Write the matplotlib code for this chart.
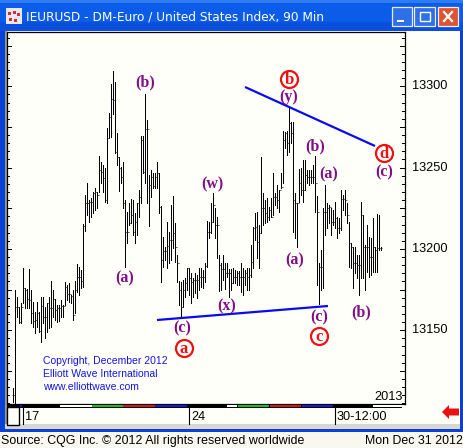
import matplotlib
matplotlib.use("Agg")
import matplotlib.pyplot as plt
from matplotlib.patches import Rectangle, Polygon

W, H = 464, 448

highs = [
 13114.3,13174.7,13170.2,13164.5,13166.5,13188.1,13175.8,13175.2,13187.5,13174.7,13167.2,13161.4,13167.2,13161.4,13170.2,13170.2,13164.5,13166.5,13170.2,13180.3,13174.7,13169.2,13165.5,13165.5,13168.6,13165.5,13179.5,13177.8,13178.8,13171.7,13174.7,13180.5,13190.7,13189.1,13187.0,13215.3,13233.2,13240.3,13230.1,13231.1,13235.2,13237.3,13235.2,13257.2,13253.7,13251.6,13249.6,13274.2,
 13283.8,13301.4,13309.4,13302.5,13271.1,13256.3,13250.6,13253.7,13230.1,13222.5,13228.0,13230.7,13230.1,13221.9,13228.0,13236.2,13269.5,13269.5,13295.3,13279.3,13245.5,13248.5,13246.5,13246.5,13253.7,13246.5,13226.6,13207.5,13201.4,13216.4,13210.6,13227.0,13232.6,13215.7,13196.3,13180.5,13179.9,13180.9,13181.9,13188.5,13188.5,13185.0,13181.9,13185.0,13184.0,13188.1,13188.1,13187.0,
 13191.1,13217.4,13216.8,13228.0,13234.2,13225.0,13219.8,13196.3,13191.1,13196.3,13191.1,13191.1,13187.5,13187.5,13188.1,13187.0,13186.6,13186.6,13191.1,13188.1,13187.0,13188.1,13188.1,13202.4,13213.7,13221.9,13222.9,13214.7,13256.3,13234.2,13230.1,13231.1,13226.0,13231.1,13246.5,13234.2,13239.3,13236.2,13246.5,13272.7,13272.1,13272.7,13286.5,13278.3,13278.3,13234.2,13228.0,
 13249.0,13249.6,13254.7,13254.7,13248.5,13248.5,13248.5,13251.6,13257.2,13232.6,13191.1,13199.3,13225.0,13239.3,13228.0,13227.0,13225.0,13224.0,13229.1,13219.8,13218.8,13236.2,13233.2,13236.2,13228.0,13216.8,13203.4,13201.4,13201.4,13196.3,13196.3,13229.1,13220.9,13202.4,13214.7,13207.5,13206.5,13218.8,13201.4,13221.5,13220.9,13201.4,
]
lows = [
 13106.1,13105.5,13158.3,13154.2,13154.2,13166.5,13163.5,13163.5,13163.5,13154.2,13152.2,13148.1,13152.2,13149.1,13143.0,13154.2,13145.0,13149.1,13151.2,13152.2,13158.3,13156.3,13155.3,13155.9,13158.3,13158.3,13165.5,13168.6,13167.6,13166.5,13156.3,13160.4,13173.7,13171.7,13176.2,13176.8,13211.2,13220.9,13216.8,13219.8,13222.3,13223.9,13225.0,13235.2,13240.3,13235.2,13229.1,13228.0,
 13268.0,13268.6,13283.0,13259.2,13251.6,13235.8,13240.8,13225.0,13189.1,13203.4,13214.7,13215.7,13208.6,13203.4,13208.6,13219.8,13228.0,13246.5,13240.3,13228.0,13214.3,13232.2,13237.3,13237.3,13237.3,13222.3,13179.9,13189.1,13193.2,13188.1,13191.1,13193.2,13200.4,13192.2,13179.5,13165.5,13158.3,13164.5,13170.2,13174.7,13171.7,13167.0,13170.6,13172.7,13169.6,13174.7,13176.8,13175.8,
 13179.9,13189.1,13206.5,13209.6,13216.8,13206.5,13194.2,13174.3,13174.7,13180.9,13175.2,13182.9,13170.6,13174.7,13178.8,13178.8,13177.8,13177.8,13173.7,13171.7,13177.8,13174.7,13174.7,13182.9,13188.1,13205.5,13194.2,13188.1,13209.6,13214.7,13215.7,13216.8,13217.8,13219.8,13220.9,13227.0,13225.0,13222.9,13237.3,13240.3,13261.9,13257.8,13259.8,13264.9,13210.6,13206.5,13201.4,
 13229.1,13233.2,13229.1,13236.2,13240.3,13239.3,13240.3,13240.3,13222.9,13177.8,13166.1,13174.7,13175.8,13208.6,13212.7,13215.7,13208.6,13214.7,13212.7,13206.5,13209.6,13211.6,13224.0,13220.9,13215.7,13189.1,13188.1,13175.8,13185.0,13181.9,13171.7,13181.9,13181.9,13174.7,13186.0,13183.0,13184.0,13186.0,13186.0,13186.0,13199.3,13199.3,
]
closes = [
 13110.2,13164.1,13164.1,13155.3,13164.1,13175.8,13174.7,13169.0,13168.6,13160.8,13155.9,13156.3,13160.4,13149.7,13164.9,13158.3,13158.3,13166.5,13163.5,13163.5,13169.0,13162.4,13163.5,13163.5,13164.9,13165.1,13176.4,13172.1,13172.1,13171.3,13159.4,13174.7,13182.5,13182.5,13180.3,13214.3,13228.0,13228.0,13229.1,13229.1,13234.2,13235.2,13233.2,13248.5,13247.5,13243.4,13230.1,13268.0,
 13280.9,13292.0,13291.6,13259.8,13256.7,13249.6,13244.0,13228.0,13210.2,13210.2,13215.7,13220.9,13210.2,13216.8,13228.0,13231.7,13267.0,13247.5,13273.8,13273.8,13239.3,13244.4,13238.7,13244.4,13246.5,13226.0,13193.2,13198.7,13198.7,13201.8,13205.5,13205.5,13209.6,13201.4,13191.1,13174.7,13164.5,13174.7,13178.8,13188.1,13181.9,13179.9,13180.9,13180.9,13180.9,13182.9,13182.9,13182.5,
 13189.5,13210.6,13210.6,13216.8,13227.0,13214.7,13214.7,13190.1,13187.5,13187.5,13185.0,13185.0,13185.0,13178.8,13182.9,13182.9,13185.0,13182.9,13182.9,13182.9,13185.0,13182.9,13184.0,13192.2,13212.7,13213.7,13204.5,13209.6,13225.0,13225.0,13221.9,13219.8,13223.9,13219.8,13232.1,13232.1,13230.1,13236.2,13238.3,13267.0,13271.1,13264.9,13277.2,13271.1,13230.1,13228.0,13228.0,
 13240.3,13236.2,13236.2,13245.5,13244.4,13244.4,13244.4,13244.4,13240.3,13222.9,13189.1,13189.1,13222.9,13222.9,13225.0,13226.0,13216.8,13216.8,13218.8,13212.7,13212.7,13230.5,13230.5,13230.1,13220.9,13203.4,13201.4,13191.1,13191.1,13190.1,13190.1,13220.9,13201.4,13201.4,13201.4,13195.2,13195.2,13201.4,13199.3,13200.4,13200.4,13200.4,
]
price_labels = [13150, 13200, 13250, 13300]
title = "IEURUSD - DM-Euro / United States Index, 90 Min"
date_labels = [("17", 23), ("24", 189), ("30-12:00", 335)]
purple_labels = [("(b)",145,82),("(y)",289,97),("(b)",315,146),("(a)",329,174),("(c)",384,172),
                 ("(w)",212,184),("(a)",125,278),("(a)",295,260),("(x)",227,306),("(c)",182,328),
                 ("(c)",319,317),("(b)",361,312)]
red_labels = [("b",289,79),("d",384,153),("a",184,348),("c",319,336)]
trend_lines = [((245,87),(375,146)),((157,320),(328,306))]
copyright_lines = [("Copyright, December 2012",361),("Elliott Wave International",374),("www.elliottwave.com",387)]

PX = 1.626
def px2price(y): return 13300-(y-86.3)/PX
def px2idx(x): return (x-13.3)/2

fig = plt.figure(figsize=(W/100, H/100), dpi=100, facecolor="#0A4FE0")
def frect(x0,y0,x1,y1,color,z=1,**k):
    fig.add_artist(Rectangle((x0/W,1-y1/H),(x1-x0)/W,(y1-y0)/H,transform=fig.transFigure,
                             facecolor=color,edgecolor="none",zorder=z,**k))
def ftext(x,y,s,**k):
    fig.text(x/W,1-y/H,s,**k)

# window chrome
frect(0,0,464,31,"#0B5CE8")
frect(0,0,464,3,"#2F7BF2",z=1.1)
frect(0,22,464,31,"#0A50DC",z=1.1)
frect(0,31,5,430,"#0A3FD8")
frect(460,31,464,430,"#0A3FD8")
frect(5,31,7,428,"#9A9A90",z=2)
frect(7,31,460,428,"#FFFFFA",z=1.5)
frect(5,424,460,429,"#D8D8D0",z=2)
frect(0,429,464,432,"#0A3FD8",z=2)
frect(0,432,464,448,"#F8F8F0",z=2)
# title icon and text
frect(6,8,22,24,"#E8E8F0",z=3)
for (a,b) in [(8,12),(13,11),(17,13),(9,18),(14,19)]:
    frect(a,b,a+3,b+3,"#D03030",z=3.1)
ftext(26,17.5,title,color="white",fontsize=8.75,family="DejaVu Sans",va="center",ha="left",zorder=4)
# window buttons
for x0,x1,c in [(392,412,"#2F6FE8"),(414,435,"#2F6FE8"),(438,458,"#E0532F")]:
    fig.add_artist(Rectangle((x0/W,1-26/H),(x1-x0)/W,19/H,transform=fig.transFigure,facecolor=c,edgecolor="#E8EEF8",lw=0.9,zorder=3))
frect(397,20,404,22.5,"white",z=4)
fig.add_artist(Rectangle((420/W,1-21/H),10/W,9/H,transform=fig.transFigure,facecolor="none",edgecolor="white",lw=1,zorder=4))
fig.add_artist(plt.Line2D([444/W,452/W],[1-12/H,1-21/H],transform=fig.transFigure,color="white",lw=1.6,zorder=4))
fig.add_artist(plt.Line2D([444/W,452/W],[1-21/H,1-12/H],transform=fig.transFigure,color="white",lw=1.6,zorder=4))

# main axes
ax = fig.add_axes([7/W,1-404/H,398/W,372/H],zorder=5)
ax.set_facecolor("#FFFFFA")
ax.set_xlim(px2idx(7),px2idx(405))
ax.set_ylim(px2price(404),px2price(32))
for s,sp in ax.spines.items(): sp.set_linewidth(0.9); sp.set_color("black")
ax.set_xticks([])
ax.set_yticks([])

xs = list(range(len(highs)))
ax.vlines(xs,lows,highs,color="black",lw=0.68,antialiased=False,zorder=3)
opens = [closes[0]]+closes[:-1]
ax.hlines(closes,xs,[x+0.45 for x in xs],color="#222222",lw=0.6,antialiased=True,zorder=3)
ax.hlines(opens,[x-0.45 for x in xs],xs,color="#222222",lw=0.6,antialiased=True,zorder=3)

# price ticks (both sides, inward)
lo,hi = ax.get_ylim()
t = int(lo/5+1)*5
while t<hi:
    l = 4.5 if t%25==0 else 2.5
    ax.plot([0,l/398],[t,t],transform=ax.get_yaxis_transform(),color="black",lw=0.7,antialiased=False,zorder=4)
    ax.plot([1-l/398,1],[t,t],transform=ax.get_yaxis_transform(),color="black",lw=0.7,antialiased=False,zorder=4)
    t+=5
for p in price_labels:
    ax.text(1,p,"  %d"%p,transform=ax.get_yaxis_transform(),ha="left",va="center",fontsize=9.2,family="Liberation Sans",clip_on=False,color="black")

ax.text(px2idx(402.5),px2price(397),"2013",ha="right",va="center",fontsize=9.2,family="Liberation Sans")

# wave labels
for s,x,y in purple_labels:
    ax.text(px2idx(x),px2price(y),s,color="#800E86",fontsize=11.5,family="Liberation Serif",weight="bold",ha="center",va="center",zorder=6)
for s,x,y in red_labels:
    ax.scatter([px2idx(x)],[px2price(y)],s=150,facecolor="white",edgecolor="#F01010",linewidth=1.6,zorder=7)
    ax.text(px2idx(x),px2price(y+0.5),s,color="#F01010",fontsize=12,family="Liberation Serif",weight="bold",ha="center",va="center",zorder=8)
for (a,b) in trend_lines:
    ax.plot([px2idx(a[0]),px2idx(b[0])],[px2price(a[1]),px2price(b[1])],color="#0A0AF0",lw=1.6,zorder=5,solid_capstyle="butt")
for s,y in copyright_lines:
    ax.text(px2idx(43),px2price(y),s,color="#1414E6",fontsize=7.5,family="Liberation Sans",ha="left",va="center",zorder=6)

# session strip
strip = [(7,20,"black"),(20,22,"#1818C8"),(22,60,"black"),(60,92,"white"),(92,123,"#10C810"),(123,155,"#E01010"),
         (155,187,"#1818D8"),(187,227,"black"),(227,237,"white"),(238,269,"#10C810"),(270,301,"#E01010"),
         (302,333,"#1818D8"),(333,373,"black"),(373,402,"white")]
frect(7,404,402,408,"black",z=6)
for a,b,c in strip:
    frect(a,404.6,b,407.4,c,z=6.1)
# lower-left box and date separators
fig.add_artist(Rectangle((7/W,1-425/H),12/W,18/H,transform=fig.transFigure,facecolor="#FFFFFA",edgecolor="black",lw=1,zorder=6))
for s,x in date_labels:
    fig.add_artist(plt.Line2D([x/W,x/W],[1-407/H,1-424/H],transform=fig.transFigure,color="black",lw=0.8,zorder=6))
    ftext(x+2,417,s,fontsize=9.2,family="Liberation Sans",va="center",ha="left",zorder=6,color="black")
# red arrow
arrow = Polygon([(442,412),(449,405),(449,408.5),(459,408.5),(459,415.5),(449,415.5),(449,419)],closed=True,
                facecolor="#E81010",edgecolor="none",zorder=6)
arrow.set_xy([(x/W,1-y/H) for x,y in arrow.get_xy()])
arrow.set_transform(fig.transFigure)
fig.add_artist(arrow)
# status bar
ftext(1,440.5,"Source: CQG Inc. © 2012 All rights reserved worldwide",fontsize=8.9,family="Liberation Sans",va="center",ha="left",zorder=6,color="black")
ftext(463,440.5,"Mon Dec 31 2012",fontsize=8.9,family="Liberation Sans",va="center",ha="right",zorder=6,color="black")

fig.savefig("out.png",dpi=100,facecolor=fig.get_facecolor())
